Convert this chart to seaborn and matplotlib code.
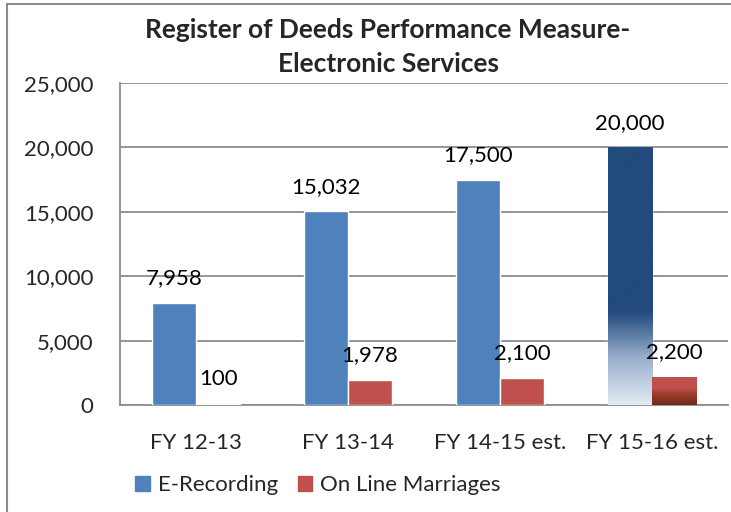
import matplotlib
matplotlib.use("Agg")
import matplotlib.pyplot as plt
import seaborn as sns
import numpy as np
import pandas as pd
from matplotlib.colors import LinearSegmentedColormap
from matplotlib.patches import Rectangle

categories = ["FY 12-13", "FY 13-14", "FY 14-15 est.", "FY 15-16 est."]
e_recording = [7958, 15032, 17500, 20000]
online_marriages = [100, 1978, 2100, 2200]
series_names = ["E-Recording", "On Line Marriages"]
y_ticks = [0, 5000, 10000, 15000, 20000, 25000]

df = pd.DataFrame({
    "Year": categories * 2,
    "Value": e_recording + online_marriages,
    "Series": [series_names[0]] * 4 + [series_names[1]] * 4,
})

sns.set_style("white")
plt.rcParams["font.family"] = ["Lato", "DejaVu Sans"]

fig = plt.figure(figsize=(7.31, 5.12), dpi=100)
ax = fig.add_axes([120 / 731, 1 - 405 / 512, 608 / 731, 322 / 512])

blue = "#4F81BD"
red = "#C0504D"
sns.barplot(data=df, x="Year", y="Value", hue="Series", palette=[blue, red],
            ax=ax, width=0.58, saturation=1, legend=True, zorder=3)

# gradient fills for the last category
blue_cmap = LinearSegmentedColormap.from_list(
    "bg", [(0.0, "#E4EBF5"), (0.18, "#9AB0CF"), (0.36, "#224A7C"), (1.0, "#224A7C")])
red_cmap = LinearSegmentedColormap.from_list(
    "rg", [(0.0, "#6E2A17"), (0.35, "#9A3B2C"), (0.6, "#C0504D"), (1.0, "#C0504D")])
grad = np.linspace(0, 1, 256).reshape(-1, 1)
for cont, cmap in ((ax.containers[0], blue_cmap), (ax.containers[1], red_cmap)):
    p = cont[3]
    x0, w, h = p.get_x(), p.get_width(), p.get_height()
    im = ax.imshow(grad, cmap=cmap, origin="lower", aspect="auto",
                   extent=[x0, x0 + w, 0, h], zorder=4)
    im.set_clip_path(p)
ax.set_ylim(0, 25000)
ax.set_xlim(-0.5, 3.5)

# data labels
fs = 16
for cont in ax.containers:
    for p in cont:
        v = p.get_height()
        ax.annotate(f"{v:,.0f}", (p.get_x() + p.get_width() / 2, v),
                    xytext=(0, 10.5), textcoords="offset points",
                    ha="center", va="bottom", fontsize=fs, color="black", zorder=5)

grey = "#8C8C8C"
ax.set_yticks(y_ticks)
ax.set_yticklabels([f"{t:,}" for t in y_ticks], fontsize=fs)
ax.yaxis.grid(True, color=grey, linewidth=1.3, zorder=0)
ax.set_axisbelow(True)
ax.set_xticks(range(4))
ax.set_xticklabels(categories, fontsize=fs)
ax.set_xticks([-0.5, 0.5, 1.5, 2.5, 3.5], minor=True)
ax.tick_params(axis="x", which="major", length=0, pad=20)
ax.tick_params(axis="x", which="minor", length=5.5, color=grey, width=1.3, direction="out")
ax.tick_params(axis="y", length=5.5, color=grey, width=1.3, direction="out", pad=13.5)
ax.set_xlabel("")
ax.set_ylabel("")
for s in ["top", "right"]:
    ax.spines[s].set_visible(False)
for s in ["left", "bottom"]:
    ax.spines[s].set_color(grey)
    ax.spines[s].set_linewidth(1.3)

# legend
ax.legend_.remove()
handles = [Rectangle((0, 0), 1, 1, color=blue), Rectangle((0, 0), 1, 1, color=red)]
fig.legend(handles, series_names, loc="center", bbox_to_anchor=(318 / 731, 1 - 485 / 512),
           ncol=2, frameon=False, fontsize=fs, handlelength=0.65, handleheight=0.65,
           handletextpad=0.35, columnspacing=0.9)

# title
fig.text(388 / 731, 1 - 30 / 512, "Register of Deeds Performance Measure-",
         ha="center", va="center", fontsize=19, fontweight="bold")
fig.text(388 / 731, 1 - 64 / 512, "Electronic Services",
         ha="center", va="center", fontsize=19, fontweight="bold")

# chart border
fig.patches.append(Rectangle((7 / 731, -0.05), 1.0, 1 - 4 / 512 + 0.05,
                             transform=fig.transFigure, fill=False,
                             edgecolor="#8C8C8C", linewidth=1.5))

fig.savefig("out.png", dpi=100)
